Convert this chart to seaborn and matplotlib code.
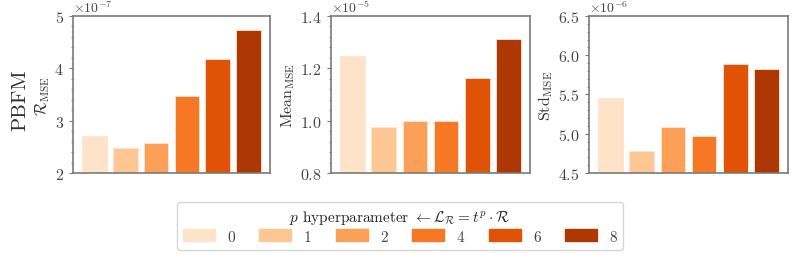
import numpy as np
import matplotlib
matplotlib.use('Agg')
import matplotlib.pyplot as plt
from matplotlib.ticker import AutoMinorLocator, MultipleLocator
import seaborn as sns
import pandas as pd

p_values = ['0', '1', '2', '4', '6', '8']
r_mse = [2.70e-7, 2.48e-7, 2.57e-7, 3.47e-7, 4.17e-7, 4.74e-7]
mean_mse = [1.246e-5, 0.975e-5, 1.0e-5, 1.0e-5, 1.164e-5, 1.312e-5]
std_mse = [5.46e-6, 4.78e-6, 5.08e-6, 4.97e-6, 5.89e-6, 5.82e-6]

sns.set_style('white')
plt.rcParams['font.family'] = 'serif'
plt.rcParams['font.serif'] = ['cmr10']
plt.rcParams['mathtext.fontset'] = 'cm'
plt.rcParams['axes.formatter.use_mathtext'] = True
plt.rcParams['axes.unicode_minus'] = False

pal = sns.color_palette('Oranges', 6)
gray = '#7a7a7a'

fig = plt.figure(figsize=(7.93, 2.55), dpi=100)
boxes = [(73, 270), (331, 530), (589, 788)]
top, bottom = 17, 174
ylabels = [r'$\mathcal{R}_{\rm MSE}$', r'Mean$_{\rm MSE}$', r'Std$_{\rm MSE}$']
datas = [r_mse, mean_mse, std_mse]
ylims = [(2e-7, 5e-7), (0.8e-5, 1.4e-5), (4.5e-6, 6.5e-6)]
majors = [1e-7, 0.2e-5, 0.5e-6]

for (l, r), vals, lab, yl, mj in zip(boxes, datas, ylabels, ylims, majors):
    ax = fig.add_axes([l / 793, 1 - bottom / 255, (r - l) / 793, (bottom - top) / 255])
    df = pd.DataFrame({'p': p_values, 'v': vals})
    sns.barplot(data=df, x='p', y='v', hue='p', palette=pal, legend=False,
                ax=ax, width=0.8, saturation=1, edgecolor='#fde5d2', linewidth=0.6)
    ax.set_xlim(-0.7, 5.7)
    ax.set_ylim(*yl)
    ax.yaxis.set_major_locator(MultipleLocator(mj))
    ax.yaxis.set_minor_locator(AutoMinorLocator(5))
    ax.set_xticks([])
    ax.set_xlabel('')
    ax.set_ylabel(lab, fontsize=11.5, color='#333333', labelpad=2)
    ax.tick_params(axis='y', which='major', direction='out', length=3, color=gray,
                   labelsize=11.5, labelcolor='#444444', left=True)
    ax.tick_params(axis='y', which='minor', direction='out', length=1.5, color=gray, left=True)
    ax.yaxis.get_offset_text().set_fontsize(10)
    ax.yaxis.get_offset_text().set_color('#444444')
    for s in ax.spines.values():
        s.set_color(gray)
        s.set_linewidth(1.2)

fig.text(20 / 793, 1 - 100 / 255, 'PBFM', rotation=90, fontsize=15,
         ha='center', va='center', color='#333333')

handles = [plt.Rectangle((0, 0), 1, 1, color=c) for c in pal]
leg = fig.legend(handles, p_values, loc='center', bbox_to_anchor=(400 / 793, 1 - 227 / 255),
                 ncol=6, fontsize=11, handlelength=2.1, handleheight=0.8,
                 columnspacing=1.6, handletextpad=0.8,
                 title=r'$p$ hyperparameter $\leftarrow\mathcal{L}_\mathcal{R}=t^p\cdot\mathcal{R}$',
                 title_fontsize=11, frameon=True, borderpad=0.4, labelspacing=0.2)
leg.get_frame().set_edgecolor('#cccccc')
for t in leg.get_texts():
    t.set_color('#444444')

fig.savefig('out.png', dpi=100)
